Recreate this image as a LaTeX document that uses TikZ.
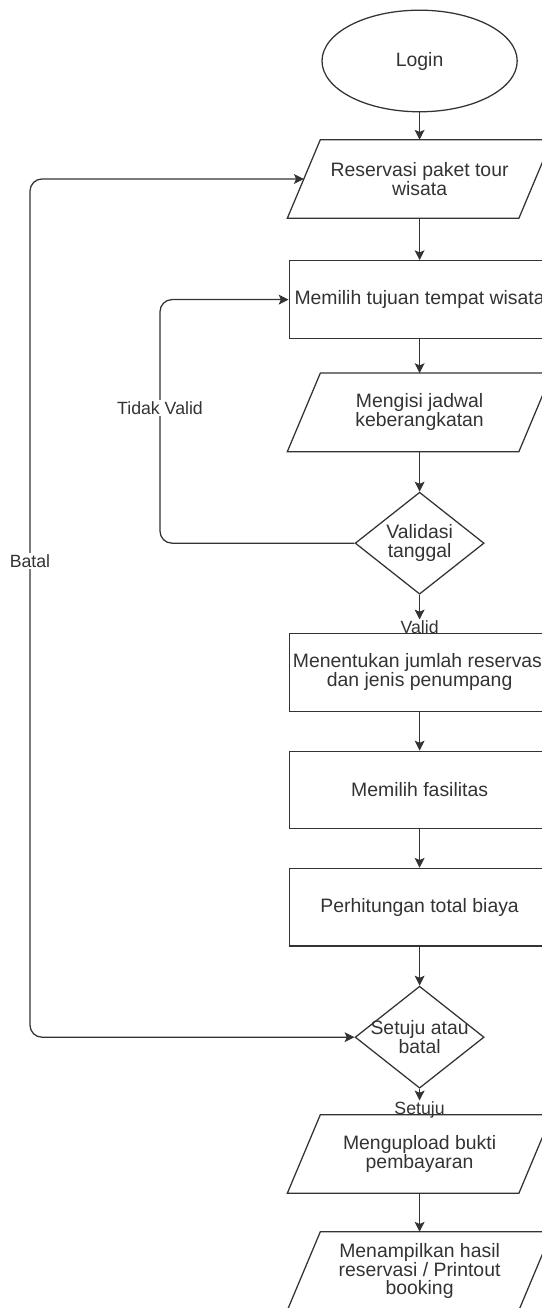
\documentclass[tikz,border=0pt]{standalone}
\usepackage{fontspec}
\setmainfont{Liberation Sans}
\usepackage{tikz}
\usetikzlibrary{shapes.geometric,arrows.meta}
\definecolor{garis}{HTML}{333333}
\newcommand{\lebar}[1]{\makebox[0pt]{#1}}

\begin{document}
\begin{tikzpicture}[
    >={Stealth[length=7pt,width=7pt,inset=1.5pt]},
    bentuk/.style={draw=garis, line width=0.9pt},
    teks/.style={font=\fontsize{13.8}{13.5}\selectfont, text=garis, align=center},
    mulai/.style={teks, bentuk, ellipse, minimum width=4.88cm, minimum height=2.54cm, inner sep=0pt},
    io/.style={teks, rectangle, minimum width=5.775cm, minimum height=1.95cm, inner sep=2pt},
    proses/.style={teks, bentuk, rectangle, fill=white, minimum width=6.52cm, minimum height=1.94cm, inner sep=2pt},
    keputusan/.style={teks, bentuk, diamond, aspect=1.265, minimum width=3.225cm, minimum height=2.55cm, inner sep=0pt},
    ket/.style={font=\fontsize{12.6}{13}\selectfont, text=garis, inner sep=1pt},
    panah/.style={bentuk, ->}
]
    \path[use as bounding box, clip] (0,0) rectangle (13.55,32.7);

    \node[mulai] (login) at (10.49,31.175) {Login};
    \node[io] (p1) at (10.49,28.225) {Reservasi paket tour\\wisata};
    \node[proses] (r1) at (10.49,25.21) {Memilih tujuan tempat wisata};
    \node[io] (p2) at (10.49,22.39) {Mengisi jadwal\\keberangkatan};
    \node[keputusan] (d1) at (10.49,19.12) {\lebar{Validasi}\\\lebar{tanggal}};
    \node[ket, anchor=base] (valid) at (10.49,16.85) {Valid};
    \node[proses] (r2) at (10.49,15.89) {\lebar{Menentukan jumlah reservasi}\\dan jenis penumpang};
    \node[proses] (r3) at (10.49,12.95) {Memilih fasilitas};
    \node[proses] (r4) at (10.49,10.02) {Perhitungan total biaya};
    \node[keputusan] (d2) at (10.49,6.77) {\lebar{Setuju atau}\\\lebar{batal}};
    \node[ket, anchor=base] (setuju) at (10.49,4.825) {Setuju};
    \node[io] (p3) at (10.49,3.85) {Mengupload bukti\\pembayaran};
    \node[io] (p4) at (10.49,0.925) {Menampilkan hasil\\reservasi / Printout\\booking};

    \foreach \n in {p1,p2,p3,p4}
        \draw[bentuk] ([xshift=-4.125mm]\n.south west) -- ([xshift=-4.125mm]\n.south east)
            -- ([xshift=4.125mm]\n.north east) -- ([xshift=4.125mm]\n.north west) -- cycle;

    \draw[panah] (login) -- (p1);
    \draw[panah] (p1) -- (r1);
    \draw[panah] (r1) -- (p2);
    \draw[panah] (p2) -- (d1);
    \draw[panah] (d1) -- (valid);
    \draw[panah] (r2) -- (r3);
    \draw[panah] (r3) -- (r4);
    \draw[panah] (r4) -- (d2);
    \draw[panah] (d2) -- (setuju);
    \draw[panah] (p3) -- (p4);

    \draw[panah, rounded corners=0.3cm] (d1.west) -| (4,25.21) -- (r1.west);
    \node[ket, fill=white] (tidak) at (4,22.5) {Tidak Valid};
    \draw[panah, <->, rounded corners=0.3cm] (d2.west) -| (0.75,28.225) -- (p1.west);
    \node[ket, fill=white] (batal) at (0.75,18.675) {Batal};
\end{tikzpicture}
\end{document}
